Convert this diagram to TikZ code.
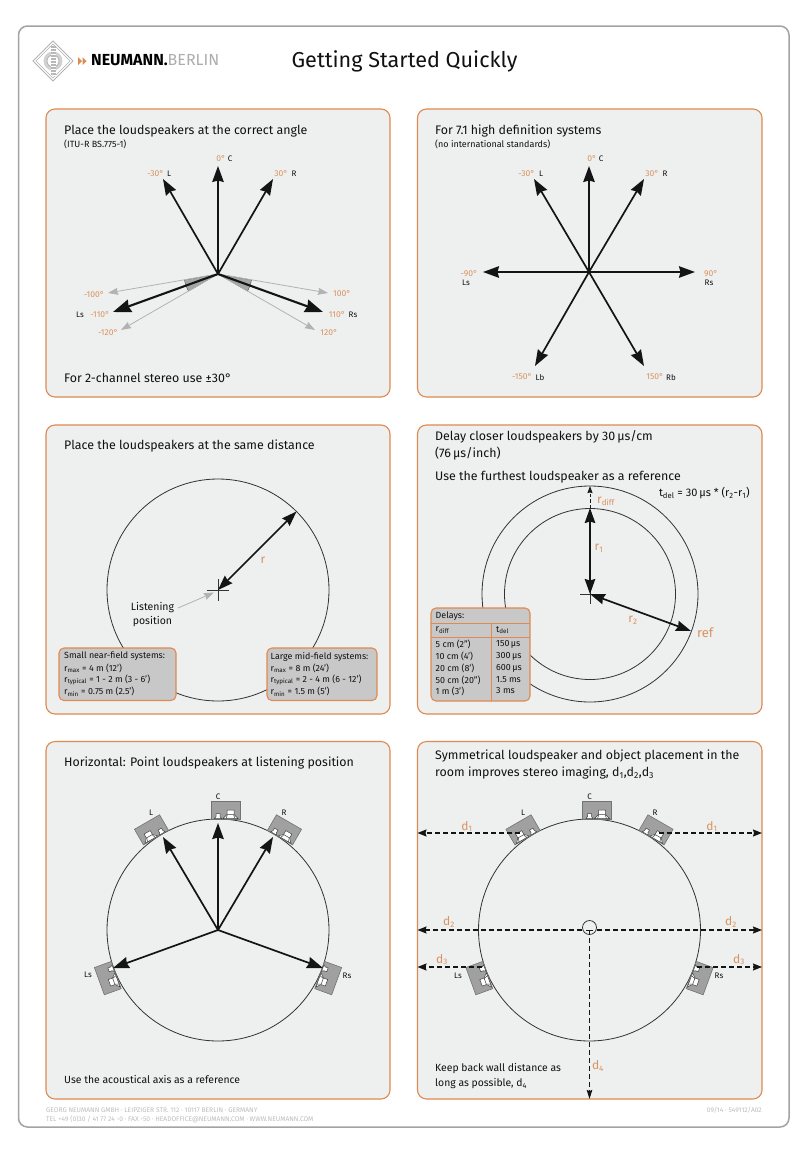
\documentclass[tikz,border=0pt]{standalone}
\usepackage{fontspec}
\setmainfont{Fira Sans}
\usetikzlibrary{arrows.meta}
\definecolor{orng}{HTML}{DE8A50}
\definecolor{otxt}{HTML}{D9935F}
\definecolor{panelbg}{HTML}{EEEFEF}
\definecolor{boxbg}{HTML}{C8C8C8}
\definecolor{spkgray}{HTML}{A0A0A0}
\definecolor{frm}{HTML}{A3A3A3}
\definecolor{txt}{HTML}{111111}
\definecolor{foot}{HTML}{BDBDBD}
\newcommand{\fsz}[1]{\fontsize{#1}{#1}\selectfont}
\newcommand{\spk}[4]{%
\begin{scope}[shift={(#1,#2)},rotate=#3,xscale=#4]
\draw[spkbox] (-7,-129) rectangle (22,-111);
\draw[drv] (-3.5,-111.5)--(-2,-113.5)--(-2,-116.5)--(2,-116.5)--(2,-113.5)--(3.5,-111.5)--cycle;
\draw[drv] (5,-111.5)--(9,-115.5)--(9,-120)--(16,-120)--(16,-115.5)--(20,-111.5)--cycle;
\draw[drv] (9,-115.5)--(16,-115.5) (9.5,-115.5)--(8,-111.5) (15.5,-115.5)--(17,-111.5);
\end{scope}}
\tikzset{
 panel/.style={draw=orng,line width=1.1pt,fill=panelbg,rounded corners=9pt},
 infobox/.style={draw=orng,line width=1.1pt,fill=boxbg,rounded corners=5pt},
 head/.style={anchor=west,inner sep=0,text=txt,font=\fsz{12.4},yshift=-1pt},
 sub/.style={anchor=west,inner sep=0,text=txt,font=\fsz{9}},
 ang/.style={inner sep=0,text=otxt,font=\fsz{8.5}},
 nm/.style={inner sep=0,text=txt,font=\fsz{8}},
 lab/.style={inner sep=0,text=otxt,font=\fsz{12}},
 box/.style={anchor=west,inner sep=0,text=txt,font=\fsz{8.9}},
 footer/.style={anchor=west,inner sep=0,text=foot,font=\fsz{6.7}},
 big/.style={line width=1.7pt,color=black!92,-{Stealth[length=16pt,width=11.5pt,inset=1.5pt]}},
 bigb/.style={line width=1.7pt,color=black!92,{Stealth[length=15pt,width=10.5pt,inset=1.5pt]}-{Stealth[length=15pt,width=10.5pt,inset=1.5pt]}},
 thick2/.style={line width=2.1pt,color=black!92,-{Stealth[length=18pt,width=13pt,inset=1.5pt]}},
 lite/.style={line width=.8pt,color=black!30,-{Stealth[length=10pt,width=7pt,inset=1pt]}},
 ring/.style={draw=black!80,line width=.8pt},
 dsh/.style={line width=1.2pt,color=black!92,dash pattern=on 5pt off 3pt,-{Stealth[length=9pt,width=7pt,inset=1pt]}},
 spkbox/.style={draw=black!55,line width=.6pt,fill=spkgray},
 drv/.style={draw=black!75,line width=.5pt,fill=white},
 logo/.style={draw=black!30,line width=.8pt},
}
\begin{document}
\begin{tikzpicture}[x=1pt,y=-1pt]
\useasboundingbox (0,0) rectangle (808,1154);
\fill[white] (0,0) rectangle (808,1154);
\draw[frm,line width=1.5pt,rounded corners=9pt] (18.5,26) rectangle (789,1127);
% logo
\draw[logo] (33,61)--(53,41)--(73,61)--(53,81)--cycle;
\draw[logo,line width=.4pt] (36,61)--(53,44)--(70,61)--(53,78)--cycle;
\fill[black!18] (53,61) circle (9.5);
\draw[logo,fill=white] (53,61) circle (6);
\fill[black!28] (50.5,46) rectangle (55.5,76);
\foreach \yy in {48,51,54,57,60,63,66,69,72,75}{\draw[white,line width=.6pt] (50.5,\yy)--(55.5,\yy);}
\fill[orng] (78,57)--(82,61)--(78,65)--cycle (82.5,57)--(86.5,61)--(82.5,65)--cycle;
\node[anchor=west,inner sep=0,font=\fsz{16}\bfseries,text=black] (brand) at (91,60.5) {NEUMANN.\textcolor{black!32}{\mdseries BERLIN}};
\node[inner sep=0,font=\fsz{21.6},text=txt] (title) at (404.5,61) {Getting Started Quickly};
% panels
\path[panel] (46,109) rectangle (390,397);
\path[panel] (417.5,109) rectangle (762,397);
\path[panel] (46,425) rectangle (390,714);
\path[panel] (417.5,425) rectangle (762,714);
\path[panel] (46,741.5) rectangle (390,1099);
\path[panel] (417.5,741.5) rectangle (762,1099);
% ---- panel 1
\node[head] (h1) at (64,130) {Place the loudspeakers at the correct angle};
\node[sub] (s1) at (64,144) {(ITU-R BS.775-1)};
\node[head] (f1) at (64,377) {For 2-channel stereo use ±30°};
\coordinate (a) at (218,274);
\filldraw[fill=black!35,draw=black!70,line width=.4pt] (a)--(251.5,280) arc[start angle=10,end angle=30,radius=34]--cycle;
\filldraw[fill=black!35,draw=black!70,line width=.4pt] (a)--(184.5,280) arc[start angle=170,end angle=150,radius=34]--cycle;
\coordinate (ac) at (218,166);\coordinate (al) at (163,179);\coordinate (ar) at (273,179);
\coordinate (als) at (113,312);\coordinate (ars) at (323,312);
\coordinate (al1) at (108,293);\coordinate (ar1) at (328,293);
\coordinate (al2) at (121,330);\coordinate (ar2) at (315,330);
\foreach \e in {al1,ar1,al2,ar2}{\draw[lite] (a)--(\e);}
\foreach \e in {ac,al,ar}{\draw[big] (a)--(\e);}
\foreach \e in {als,ars}{\draw[thick2] (a)--(\e);}
\node[ang,anchor=east] (a1) at (164,174) {-30°};
\node[nm] (n1) at (169,174) {L};
\node[ang] (a2) at (221,159) {0°};
\node[nm] (n2) at (230,159) {C};
\node[ang] (a3) at (281,174) {30°};
\node[nm] (n3) at (294,174) {R};
\node[ang] (a4) at (94,295) {-100°};
\node[ang] (a5) at (100,315) {-110°};
\node[nm] (n4) at (80,315) {Ls};
\node[ang] (a6) at (108,333) {-120°};
\node[ang] (a7) at (342,294) {100°};
\node[ang] (a8) at (337,315) {110°};
\node[nm] (n5) at (353,315) {Rs};
\node[ang] (a9) at (329,333) {120°};
% ---- panel 2
\node[head] (h2) at (435,130) {For 7.1 high definition systems};
\node[sub] (s2) at (435,144) {(no international standards)};
\coordinate (b) at (589,272);
\coordinate (bc) at (589,166);\coordinate (bl) at (534,179);\coordinate (br) at (644,179);
\coordinate (bm) at (483,272);\coordinate (bp) at (695,272);\coordinate (bbl) at (535,366);\coordinate (bbr) at (644,366);
\foreach \e in {bc,bl,br,bm,bp,bbl,bbr}{\draw[big] (b)--(\e);}
\node[ang,anchor=east] (b1) at (535,174) {-30°};
\node[nm] (m1) at (541,174) {L};
\node[ang] (b2) at (592,159) {0°};
\node[nm] (m2) at (601,159) {C};
\node[ang] (b3) at (652,174) {30°};
\node[nm] (m3) at (665,174) {R};
\node[ang] (b4) at (469,274) {-90°};
\node[nm] (m4) at (466,283) {Ls};
\node[ang] (b5) at (711,274) {90°};
\node[nm] (m5) at (709,283) {Rs};
\node[ang] (b6) at (522,377) {-150°};
\node[nm] (m6) at (540,378) {Lb};
\node[ang] (b7) at (655,377) {150°};
\node[nm] (m7) at (671,378) {Rb};
% ---- panel 3
\node[head] (h3) at (64,445) {Place the loudspeakers at the same distance};
\coordinate (c) at (218,590);
\coordinate (cr) at (296.5,511.5);
\draw[ring] (c) circle (111);
\coordinate (cxl) at (207,590);\coordinate (cxr) at (229,590);\coordinate (cxt) at (218,579);\coordinate (cxb) at (218,601);
\draw[black!80,line width=.5pt] (cxl)--(cxr) (cxt)--(cxb);
\draw[bigb] (c)--(cr);
\coordinate (cg) at (178,608);\coordinate (cg2) at (214,592.5);
\draw[lite] (cg)--(cg2);
\node[lab] (rl) at (263,560) {r};
\node[inner sep=0,text=txt,font=\fsz{10.5},align=center] (lp) at (152.5,615) {Listening\\[3.5pt]position};
\path[infobox] (59,648) rectangle (176,700.5);
\path[infobox] (267,648) rectangle (377,700.5);
\node[box] (q1) at (64,656.5) {Small near-field systems:};
\node[box] (q2) at (64,668) {r\textsubscript{max} = 4 m (12')};
\node[box] (q3) at (64,680) {r\textsubscript{typical} = 1 - 2 m (3 - 6')};
\node[box] (q4) at (64,691.5) {r\textsubscript{min} = 0.75 m (2.5')};
\node[box] (w1) at (270.5,656.5) {Large mid-field systems:};
\node[box] (w2) at (270.5,668) {r\textsubscript{max} = 8 m (24')};
\node[box] (w3) at (270.5,680) {r\textsubscript{typical} = 2 - 4 m (6 - 12')};
\node[box] (w4) at (270.5,691.5) {r\textsubscript{min} = 1.5 m (5')};
% ---- panel 4
\node[head] (h4) at (435,436) {Delay closer loudspeakers by 30\,µs/cm};
\node[head] (h4b) at (435,453) {(76\,µs/inch)};
\node[head] (h4c) at (435,476) {Use the furthest loudspeaker as a reference};
\node[anchor=east,inner sep=0,text=txt,font=\fsz{11}] (tf) at (750,493) {t\textsubscript{del} = 30\,µs * (r\textsubscript{2}-r\textsubscript{1})};
\coordinate (d) at (590,594);
\coordinate (dt) at (590,508);\coordinate (dtt) at (590,486);\coordinate (dr) at (691,631);
\draw[ring] (d) circle (108);
\draw[ring] (d) circle (85.5);
\draw[black!80,line width=.5pt] (580,594)--(600,594) (590,584)--(590,604);
\draw[bigb] (d)--(dt);
\draw[bigb] (d)--(dr);
\draw[line width=1pt,color=black!90,dash pattern=on 3.5pt off 2pt,-{Stealth[length=7pt,width=5pt,inset=.5pt]}] (dt)--(dtt);
\node[lab,anchor=west] (rd) at (597,501.5) {r\textsubscript{diff}};
\node[lab] (r1) at (599,548) {r\textsubscript{1}};
\node[lab] (r2) at (633,620) {r\textsubscript{2}};
\node[lab,anchor=west,font=\fsz{13}] (ref) at (697,633) {ref};
\path[infobox] (431,608) rectangle (530,701);
\coordinate (t1) at (431,623);\coordinate (t2) at (530,623);\coordinate (t3) at (431,637);\coordinate (t4) at (530,637);\coordinate (t5) at (491,623);\coordinate (t6) at (491,701);
\draw[orng,line width=.8pt] (t1)--(t2) (t3)--(t4) (t5)--(t6);
\node[box] (k0) at (435.5,616.5) {Delays:};
\node[box] (k1) at (435.5,630) {r\textsubscript{diff}};
\node[box] (k2) at (496,630) {t\textsubscript{del}};
\node[box] (k3) at (435.5,644.5) {5 cm (2'')};
\node[box] (k4) at (435.5,656) {10 cm (4')};
\node[box] (k5) at (435.5,668) {20 cm (8')};
\node[box] (k6) at (435.5,680) {50 cm (20'')};
\node[box] (k7) at (435.5,691) {1 m (3')};
\node[box] (l3) at (496,644.5) {150\,µs};
\node[box] (l4) at (496,656) {300\,µs};
\node[box] (l5) at (496,668) {600\,µs};
\node[box] (l6) at (496,680) {1.5 ms};
\node[box] (l7) at (496,691) {3 ms};
% ---- panel 5
\node[head] (h5) at (64,762) {Horizontal: Point loudspeakers at listening position};
\node[head,font=\fsz{10.4}] (f5) at (64,1078) {Use the acoustical axis as a reference};
\coordinate (e) at (218,930);
\draw[ring] (e) circle (111);
\spk{218}{930}{0}{1}\spk{218}{930}{30}{-1}\spk{218}{930}{-30}{1}\spk{218}{930}{110}{-1}\spk{218}{930}{-110}{1}
\coordinate (ec) at (218,823);\coordinate (el) at (163,837);\coordinate (er) at (273,837);\coordinate (els) at (113,968);\coordinate (ers) at (323,968);
\foreach \e in {ec,el,er,els,ers}{\draw[big] (e)--(\e);}
\node[nm] (o1) at (218,797) {C};
\node[nm] (o2) at (151,813) {L};
\node[nm] (o3) at (284,813) {R};
\node[nm] (o4) at (88,975) {Ls};
\node[nm] (o5) at (347,976) {Rs};
% ---- panel 6
\node[head] (h6) at (435,755) {Symmetrical loudspeaker and object placement in the};
\node[head] (h6b) at (435,772) {room improves stereo imaging, d\textsubscript{1},d\textsubscript{2},d\textsubscript{3}};
\node[head,font=\fsz{10.4}] (f6) at (435,1068) {Keep back wall distance as};
\node[head,font=\fsz{10.4}] (f6b) at (435,1083) {long as possible, d\textsubscript{4}};
\coordinate (g) at (589.5,930);
\draw[ring] (g) circle (111);
\spk{589.5}{930}{0}{1}\spk{589.5}{930}{30}{-1}\spk{589.5}{930}{-30}{1}\spk{589.5}{930}{110}{-1}\spk{589.5}{930}{-110}{1}
\coordinate (gs) at (589.5,927.5);
\draw[black!85,line width=.7pt,fill=panelbg] (gs) circle (7);
\coordinate (wl1) at (417.5,833);\coordinate (sl1) at (520,833);
\coordinate (wr1) at (762,833);\coordinate (sr1) at (659,833);
\coordinate (wl2) at (417.5,930);\coordinate (sl2) at (582,930);
\coordinate (wr2) at (762,930);\coordinate (sr2) at (597,930);
\coordinate (wl3) at (417.5,967);\coordinate (sl3) at (482,967);
\coordinate (wr3) at (762,967);\coordinate (sr3) at (697,967);
\coordinate (wb) at (589.5,1099);\coordinate (sb) at (589.5,930);
\draw[dsh] (sl1)--(wl1);\draw[dsh] (sr1)--(wr1);
\draw[dsh] (sl2)--(wl2);\draw[dsh] (sr2)--(wr2);
\draw[dsh] (sl3)--(wl3);\draw[dsh] (sr3)--(wr3);
\draw[dsh,line width=1pt,-{Stealth[length=9pt,width=5.5pt,inset=1pt]}] (sb)--(wb);
\draw[black!90,line width=1pt] (586,930)--(593,930);
\node[nm] (u1) at (589.5,797) {C};
\node[nm] (u2) at (523,813) {L};
\node[nm] (u3) at (655,813) {R};
\node[nm] (u4) at (458,976) {Ls};
\node[nm] (u5) at (719,976) {Rs};
\node[lab] (d1a) at (467,826.5) {d\textsubscript{1}};
\node[lab] (d1b) at (712,826.5) {d\textsubscript{1}};
\node[lab] (d2a) at (449,922) {d\textsubscript{2}};
\node[lab] (d2b) at (731,922) {d\textsubscript{2}};
\node[lab] (d3a) at (442,959.5) {d\textsubscript{3}};
\node[lab] (d3b) at (739,959.5) {d\textsubscript{3}};
\node[lab] (d4a) at (598,1066) {d\textsubscript{4}};
% footer
\node[footer] (z1) at (46,1110.5) {GEORG NEUMANN GMBH · LEIPZIGER STR. 112 · 10117 BERLIN · GERMANY};
\node[footer] (z2) at (46,1119.5) {TEL +49 (0)30 / 41 77 24 -0 · FAX -50 · HEADOFFICE@NEUMANN.COM · WWW.NEUMANN.COM};
\node[footer,anchor=east] (z3) at (762,1110.5) {09/14 · 549112/A02};
\end{tikzpicture}
\end{document}
